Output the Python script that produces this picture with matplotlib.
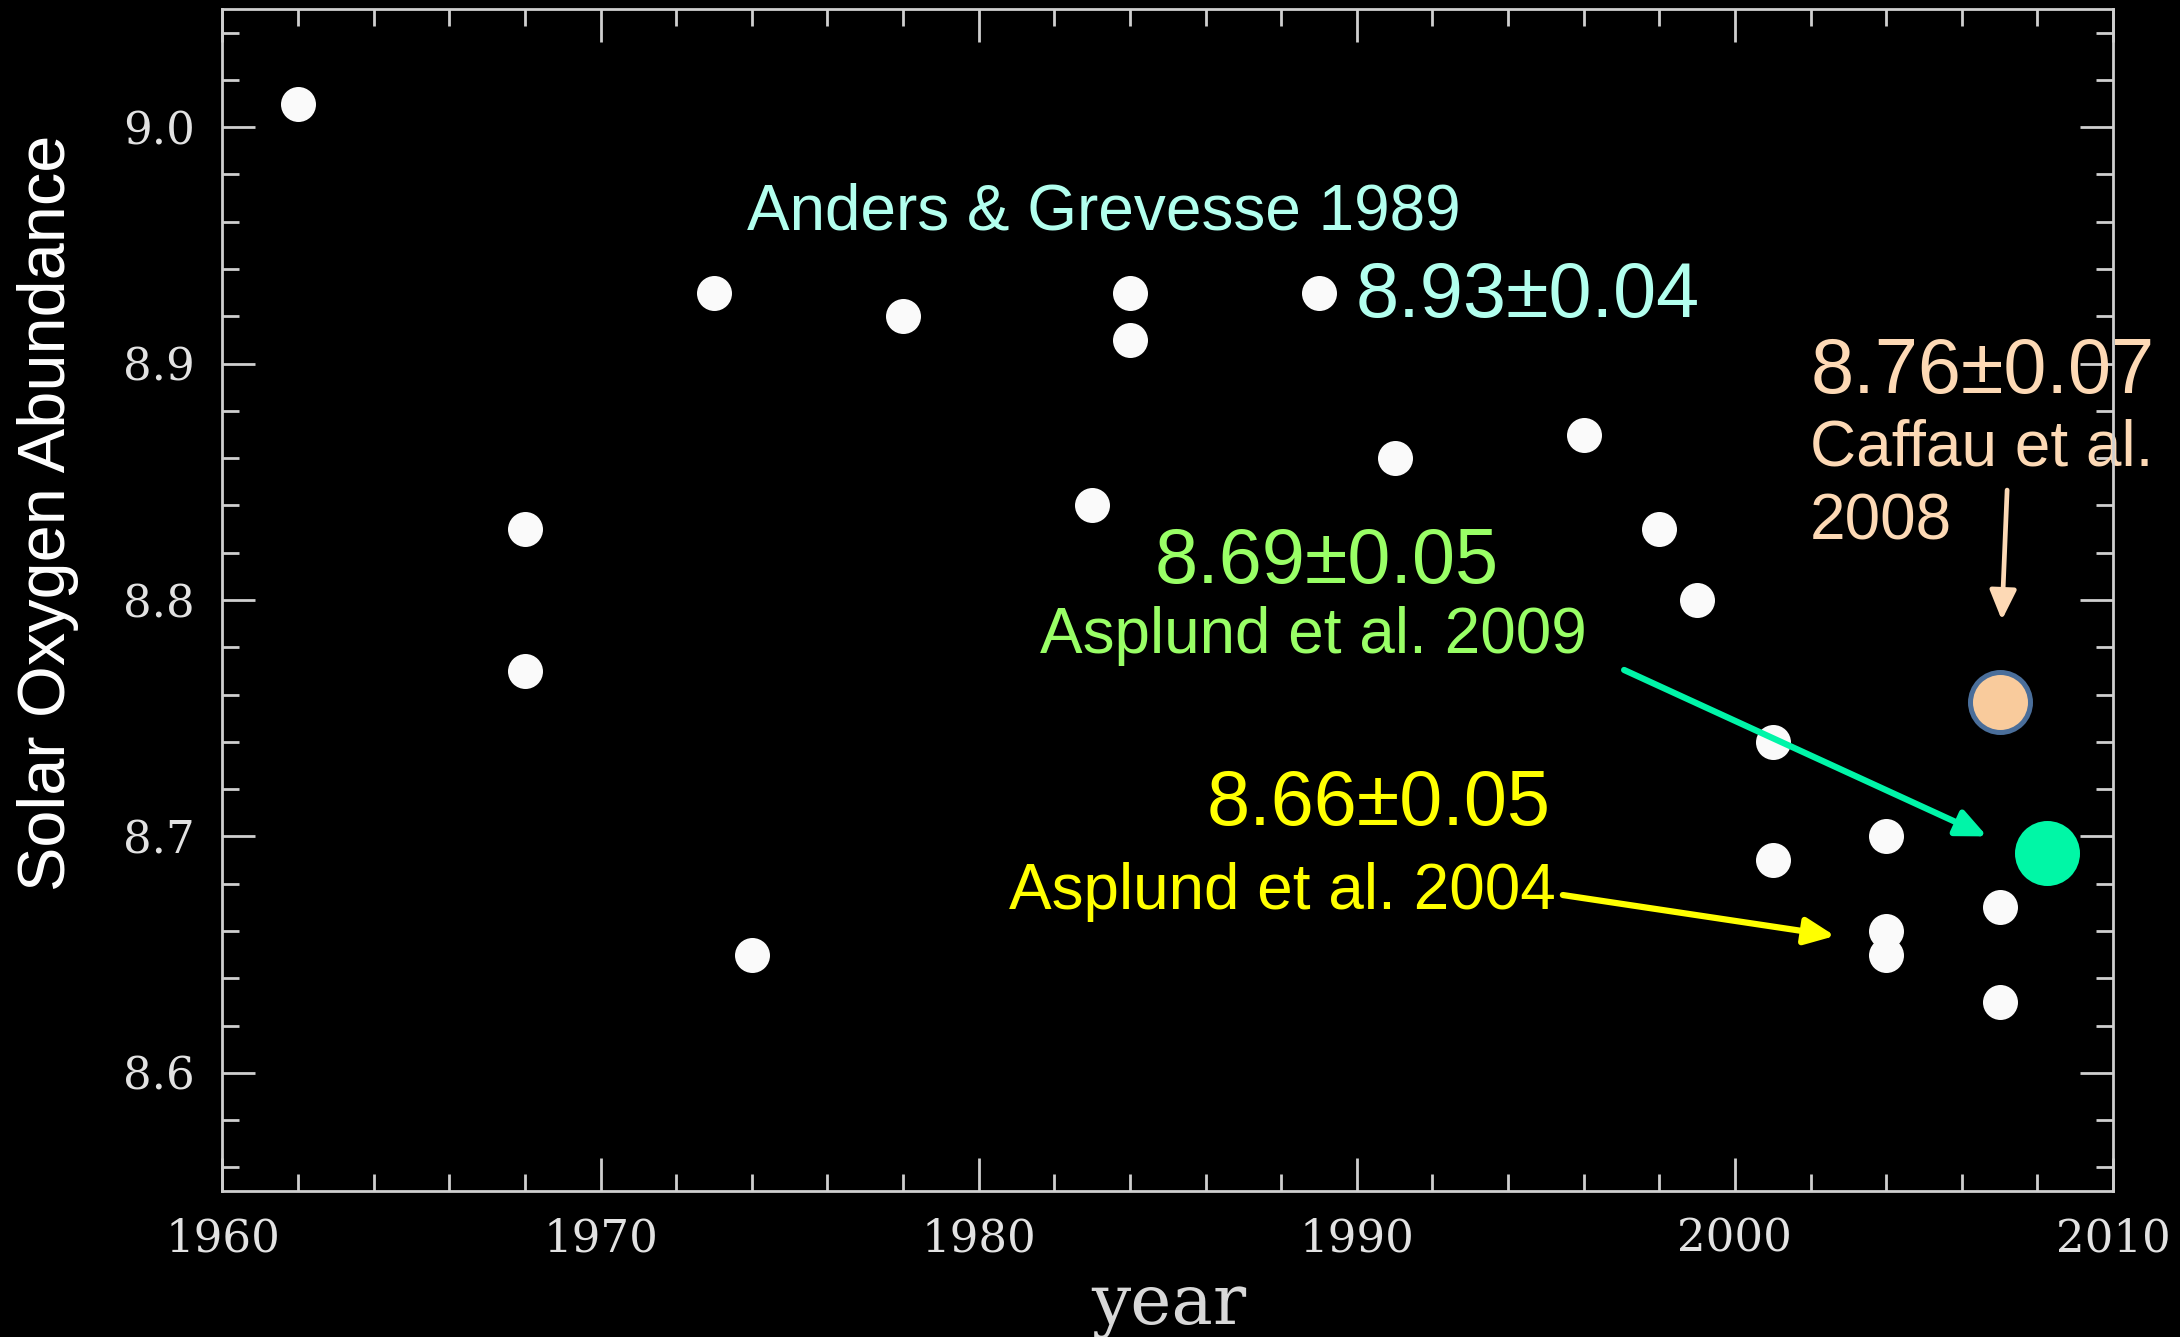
import matplotlib
matplotlib.use("Agg")
import matplotlib.pyplot as plt
from matplotlib.ticker import MultipleLocator, FixedLocator

# ---- data ----
years = [1962, 1968, 1968, 1973, 1974, 1978, 1983, 1984, 1984, 1989, 1991,
         1996, 1998, 1999, 2001, 2001, 2004, 2004, 2004, 2007, 2007]
abundance = [9.01, 8.83, 8.77, 8.93, 8.65, 8.92, 8.84, 8.93, 8.91, 8.93, 8.86,
             8.87, 8.83, 8.80, 8.74, 8.69, 8.70, 8.66, 8.65, 8.67, 8.63]

caffau_year = [2007]
caffau_value = [8.757]
asplund09_year = [2008.25]
asplund09_value = [8.693]

x_ticks = [1960, 1970, 1980, 1990, 2000, 2010]
y_ticks = [8.6, 8.7, 8.8, 8.9, 9.0]
y_tick_labels = ["8.6", "8.7", "8.8", "8.9", "9.0"]

# ---- figure ----
fig = plt.figure(figsize=(21.8, 13.37), dpi=100, facecolor="black")
ax = fig.add_axes([0.10206, 0.10920, 0.86720, 0.88407])
ax.set_facecolor("black")

ax.set_xlim(1960, 2010)
ax.set_ylim(8.55, 9.05)

axis_col = "#cfcfcf"
for s in ax.spines.values():
    s.set_color(axis_col)
    s.set_linewidth(2.0)

ax.xaxis.set_major_locator(FixedLocator(x_ticks))
ax.xaxis.set_minor_locator(MultipleLocator(2))
ax.yaxis.set_major_locator(FixedLocator(y_ticks))
ax.yaxis.set_minor_locator(MultipleLocator(0.02))
ax.set_xticklabels([str(t) for t in x_ticks])
ax.set_yticklabels(y_tick_labels)

ax.tick_params(which="both", direction="in", top=True, right=True,
               color=axis_col, width=2.0)
ax.tick_params(which="major", length=24)
ax.tick_params(which="minor", length=12)
ax.tick_params(axis="x", which="major", pad=19)
ax.tick_params(axis="y", which="major", pad=20)
for lab in ax.get_xticklabels() + ax.get_yticklabels():
    lab.set_family("DejaVu Serif")
    lab.set_fontsize(32.5)
    lab.set_color("#e2e2e2")

ax.set_xlabel("year", family="DejaVu Serif", fontsize=50, color="#d8d8d8",
              va="baseline")
ax.xaxis.set_label_coords(0.5007, -0.1124)
ax.set_ylabel("Solar Oxygen Abundance", family="Liberation Sans",
              fontsize=48, color="white", va="center")
ax.yaxis.set_label_coords(-0.0923, 0.5735)

# ---- points ----
ax.plot(years, abundance, "o", ls="none", color="#fafafa", markersize=25.2,
        markeredgewidth=0, zorder=3)
ax.plot(caffau_year, caffau_value, "o", ls="none", color="#f9cb9c",
        markeredgecolor="#4a6e9a", markeredgewidth=3.6, markersize=43.2,
        zorder=4)
ax.plot(asplund09_year, asplund09_value, "o", ls="none", color="#00f7a6",
        markeredgewidth=0, markersize=46.8, zorder=4, clip_on=False)

# ---- annotations ----
sans = "Liberation Sans"
cyan = "#b2ffee"
peach = "#fdd9b5"
green = "#99ff66"
yellow = "#ffff00"
teal = "#00f5a8"

def txt(x, y, s, c, fs):
    ax.text(x, y, s, color=c, fontsize=fs, family=sans, ha="left",
            va="baseline", zorder=2, clip_on=False)

txt(1973.86, 8.9569, "Anders & Grevesse 1989", cyan, 46)
txt(1989.97, 8.9197, "8.93\u00b10.04", cyan, 55.8)
txt(2001.99, 8.8876, "8.76\u00b10.07", peach, 55.8)
txt(2001.99, 8.8571, "Caffau et al.", peach, 46)
txt(2001.99, 8.8258, "2008", peach, 46)
txt(1984.64, 8.8072, "8.69\u00b10.05", green, 55.8)
txt(1981.62, 8.7776, "Asplund et al. 2009", green, 46)
txt(1986.04, 8.7048, "8.66\u00b10.05", yellow, 55.8)
txt(1980.81, 8.6693, "Asplund et al. 2004", yellow, 46)

def arrow(x0, y0, x1, y1, c, lw):
    ax.annotate("", xy=(x1, y1), xytext=(x0, y0),
                arrowprops=dict(arrowstyle="-|>,head_length=1.0,head_width=0.45",
                                mutation_scale=18, color=c, lw=lw,
                                shrinkA=0, shrinkB=0),
                zorder=5)

arrow(1997.07, 8.7704, 2006.67, 8.7000, teal, 4.5)
arrow(1995.45, 8.6752, 2002.65, 8.6579, yellow, 4.5)
arrow(2007.20, 8.8465, 2007.06, 8.7915, peach, 3.4)

fig.savefig("out.png", dpi=100, facecolor="black")
